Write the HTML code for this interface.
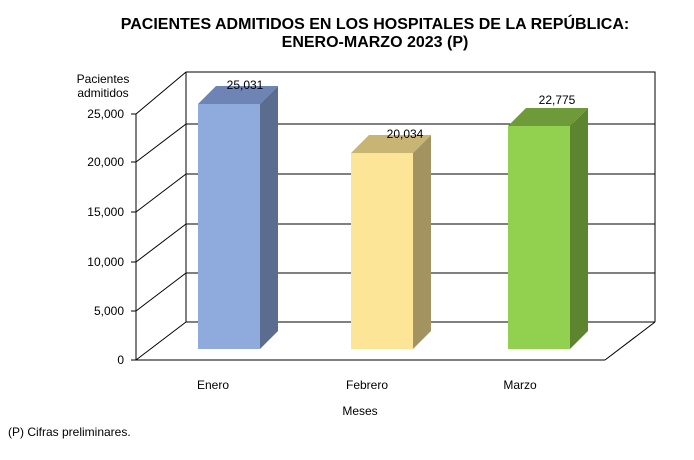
<!DOCTYPE html>
<html><head><style>body{margin:0;background:#fff}svg{display:block;font-family:"Liberation Sans",Arial,sans-serif}</style></head><body>
<svg width="694" height="460" viewBox="0 0 694 460">
<text x="375" y="29" text-anchor="middle" font-size="16" font-weight="bold">PACIENTES ADMITIDOS EN LOS HOSPITALES DE LA REPÚBLICA:</text>
<text x="375" y="47" text-anchor="middle" font-size="16" font-weight="bold">ENERO-MARZO 2023 (P)</text>
<text x="103" y="83" text-anchor="middle" font-size="12">Pacientes</text>
<text x="103" y="97" text-anchor="middle" font-size="12">admitidos</text>
<g stroke="#000" stroke-width="1" fill="none">
<polyline points="186,72 655,72 655,322"/>
<line x1="186" y1="72" x2="186" y2="322"/>
<line x1="186" y1="322" x2="655" y2="322"/>
<line x1="136" y1="360" x2="605" y2="360"/>
<line x1="605" y1="360" x2="655" y2="322"/>
<line x1="136" y1="114" x2="136" y2="360"/>
<line x1="136" y1="360" x2="186" y2="322"/><line x1="136" y1="311" x2="186" y2="273"/><line x1="136" y1="262" x2="186" y2="224"/><line x1="136" y1="212" x2="186" y2="174"/><line x1="136" y1="162" x2="186" y2="124"/><line x1="136" y1="114" x2="186" y2="72"/>
<line x1="186" y1="273" x2="655" y2="273"/><line x1="186" y1="224" x2="655" y2="224"/><line x1="186" y1="174" x2="655" y2="174"/><line x1="186" y1="124" x2="655" y2="124"/>
<line x1="131" y1="360" x2="136" y2="360"/><line x1="131" y1="311" x2="136" y2="311"/><line x1="131" y1="262" x2="136" y2="262"/><line x1="131" y1="212" x2="136" y2="212"/><line x1="131" y1="162" x2="136" y2="162"/><line x1="131" y1="114" x2="136" y2="114"/>
</g>
<g font-size="12" text-anchor="end">
<text x="124" y="364">0</text><text x="124" y="315">5,000</text><text x="124" y="266">10,000</text><text x="124" y="216">15,000</text><text x="124" y="166">20,000</text><text x="124" y="118">25,000</text>
</g>
<polygon points="198,104 216,86 278,86 260,104" fill="#6d84b4"/>
<polygon points="260,104 278,86 278,331 260,349" fill="#5b6d8f"/>
<rect x="198" y="104" width="62" height="245" fill="#8faadc"/>
<polygon points="351,153 369,135 431,135 413,153" fill="#c8b473"/>
<polygon points="413,153 431,135 431,331 413,349" fill="#a39361"/>
<rect x="351" y="153" width="62" height="196" fill="#fde597"/>
<polygon points="508,126 526,108 588,108 570,126" fill="#6e9a3a"/>
<polygon points="570,126 588,108 588,331 570,349" fill="#5d8530"/>
<rect x="508" y="126" width="62" height="223" fill="#92d050"/>
<g font-size="12" text-anchor="middle">
<text x="245" y="89">25,031</text><text x="405" y="138">20,034</text><text x="557" y="104">22,775</text>
<text x="213" y="389">Enero</text><text x="367" y="389">Febrero</text><text x="520" y="389">Marzo</text>
<text x="360" y="415">Meses</text>
</g>
<text x="8" y="436" font-size="12">(P) Cifras  preliminares.</text>
</svg>
</body></html>
